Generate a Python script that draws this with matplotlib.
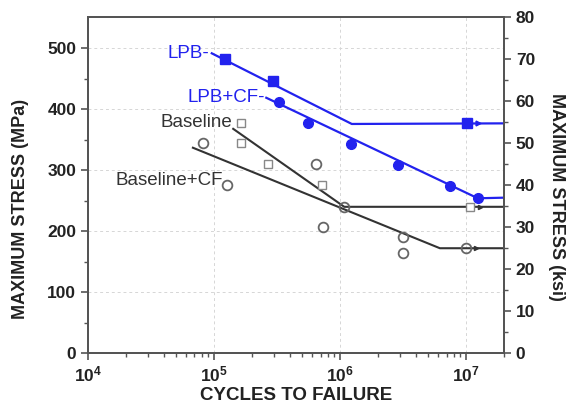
import matplotlib
matplotlib.use('Agg')
import matplotlib.pyplot as plt
from matplotlib.ticker import MultipleLocator, LogLocator, FixedLocator

plt.rcParams['font.family'] = ['Liberation Sans', 'DejaVu Sans']

# data points (cycles, MPa)
lpb_n = [1.22e5, 2.94e5, 1.02e7]
lpb_s = [483, 447, 378]
lpb_cf_n = [3.28e5, 5.57e5, 1.22e6, 2.89e6, 7.46e6, 1.24e7]
lpb_cf_s = [412, 378, 343, 309, 274, 254]
base_n = [1.64e5, 1.64e5, 2.68e5, 7.2e5, 1.08e7]
base_s = [378, 345, 310, 276, 240]
base_cf_n = [8.2e4, 1.27e5, 6.46e5, 7.33e5, 1.08e6, 3.16e6, 3.16e6, 1.0e7]
base_cf_s = [345, 276, 310, 207, 240, 190, 164, 172]

# fitted S-N curves (cycles, MPa)
lpb_fit_n = [9.6e4, 1.24e6, 2e7]
lpb_fit_s = [492, 376, 377]
lpb_cf_fit_n = [2.6e5, 1.24e7, 2e7]
lpb_cf_fit_s = [419, 254, 255]
base_fit_n = [1.42e5, 1.08e6, 2e7]
base_fit_s = [368, 240, 240]
base_cf_fit_n = [6.8e4, 6.2e6, 2e7]
base_cf_fit_s = [337, 172, 172]

# run-outs
runout_n = [1.25e7, 1.3e7, 1.2e7]
runout_s = [378, 240, 172]

blue = '#2222ee'
dark = '#333333'

fig = plt.figure(figsize=(5.74, 4.12), dpi=100)
ax = fig.add_axes([0.1533, 0.1432, 0.7247, 0.8155])

ax.plot(lpb_fit_n, lpb_fit_s, color=blue, lw=1.6, zorder=3)
ax.plot(lpb_cf_fit_n, lpb_cf_fit_s, color=blue, lw=1.6, zorder=3)
ax.plot(base_fit_n, base_fit_s, color=dark, lw=1.5, zorder=3)
ax.plot(base_cf_fit_n, base_cf_fit_s, color=dark, lw=1.5, zorder=3)

ax.plot(lpb_n, lpb_s, 's', color=blue, ms=6.5, zorder=4)
ax.plot(lpb_cf_n, lpb_cf_s, 'o', color=blue, ms=7, zorder=4)
ax.plot(base_n, base_s, 's', mfc='white', mec='#888888', mew=1.0, ms=6, zorder=4)
ax.plot(base_cf_n, base_cf_s, 'o', mfc='none', mec='#666666', mew=1.3, ms=7, zorder=4)
ax.plot(runout_n[:1], runout_s[:1], '>', color=blue, ms=3.5, zorder=4)
ax.plot(runout_n[1:], runout_s[1:], '>', color=dark, ms=3, zorder=4)

ax.set_xscale('log')
ax.set_xlim(1e4, 2e7)
ax.set_ylim(0, 80 * 6.89476)
ax.yaxis.set_major_locator(FixedLocator([0, 100, 200, 300, 400, 500]))
ax.yaxis.set_minor_locator(FixedLocator([50, 150, 250, 350, 450]))
ax.xaxis.set_major_locator(LogLocator(base=10, numticks=10))
ax.xaxis.set_minor_locator(LogLocator(base=10, subs=range(2, 10), numticks=10))
ax.grid(True, which='major', color='#d6d6d6', ls=(0, (3, 3)), lw=0.7)
ax.set_axisbelow(True)

for s in ax.spines.values():
    s.set_color('#555555')
    s.set_linewidth(1.4)
ax.tick_params(which='major', length=5, width=1.2, color='#555555',
               labelsize=12.5, direction='out', top=False)
ax.tick_params(which='minor', length=3, width=1.0, color='#555555',
               direction='out', top=False)
for lab in ax.get_xticklabels() + ax.get_yticklabels():
    lab.set_fontweight('bold')
    lab.set_color('#222222')

ax.set_xlabel('CYCLES TO FAILURE', fontsize=13.5, fontweight='bold',
              color='#222222', labelpad=2)
ax.set_ylabel('MAXIMUM STRESS (MPa)', fontsize=13, fontweight='bold',
              color='#222222')
ax.yaxis.set_label_coords(-0.142, 0.43)

ax2 = ax.twinx()
ax2.set_ylim(0, 80)
ax2.yaxis.set_major_locator(MultipleLocator(10))
ax2.yaxis.set_minor_locator(MultipleLocator(5))
for s in ax2.spines.values():
    s.set_color('#555555')
    s.set_linewidth(1.4)
ax2.tick_params(which='major', length=5, width=1.2, color='#555555',
                labelsize=12.5, direction='out')
ax2.tick_params(which='minor', length=3, width=1.0, color='#555555',
                direction='out')
for lab in ax2.get_yticklabels():
    lab.set_fontweight('bold')
    lab.set_color('#222222')
ax2.set_ylabel('MAXIMUM STRESS (ksi)', fontsize=13, fontweight='bold',
               color='#222222', rotation=270, va='center')
ax2.yaxis.set_label_coords(1.127, 0.465)

ax.text(0.925e5, 492, 'LPB-', color=blue, fontsize=13.5, ha='right', va='center')
ax.text(2.55e5, 420, 'LPB+CF-', color=blue, fontsize=13.5, ha='right', va='center')
ax.text(1.4e5, 378, 'Baseline', color=dark, fontsize=13.5, ha='right', va='center')
ax.text(1.17e5, 284, 'Baseline+CF', color=dark, fontsize=13.5, ha='right', va='center')

fig.savefig('out.png', dpi=100)
